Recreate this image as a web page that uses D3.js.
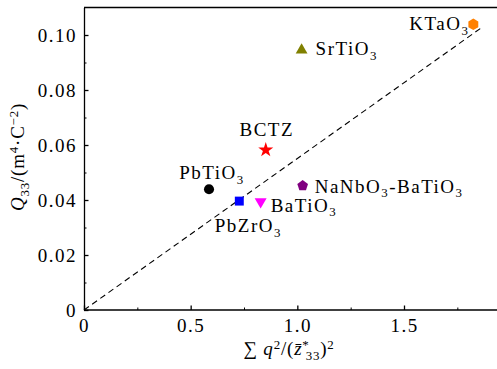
<!DOCTYPE html>
<html>
<head>
<meta charset="utf-8">
<script src="https://cdn.jsdelivr.net/npm/d3@7"></script>
<style>
    body { margin: 0; background: #fff; }
    svg { display: block; }
</style>
</head>
<body>
<svg id="drawing_region"></svg>
<script>
// data
const materials = ["KTaO3", "SrTiO3", "BCTZ", "PbTiO3", "PbZrO3", "BaTiO3", "NaNbO3-BaTiO3"];
const sumq = [1.825, 1.02, 0.852, 0.586, 0.728, 0.828, 1.025];
const q33 = [0.1039, 0.0945, 0.0582, 0.0439, 0.0396, 0.0394, 0.0452];
const fitX = [0, 1.864];
const fitY = [0, 0.1027];
const xTicks = [0, 0.5, 1.0, 1.5];
const xTickLabels = ["0", "0.5", "1.0", "1.5"];
const yTicks = [0, 0.02, 0.04, 0.06, 0.08, 0.10];
const yTickLabels = ["0", "0.02", "0.04", "0.06", "0.08", "0.10"];

const FONT = '"Liberation Serif", "DejaVu Serif", "Times New Roman", serif';
const FS = 19;
const LS = 1.5;

// polygon symbol for pentagon / hexagon
function polygon(n, rot) {
    return {
        draw(ctx, size) {
            const r = Math.sqrt(size / (n / 2 * Math.sin(2 * Math.PI / n)));
            for (let i = 0; i < n; i++) {
                const a = rot + i * 2 * Math.PI / n;
                const px = r * Math.sin(a), py = -r * Math.cos(a);
                if (i == 0) ctx.moveTo(px, py); else ctx.lineTo(px, py);
            }
            ctx.closePath();
        }
    };
}

const style = {
    "KTaO3":         {color: "#ff8000", symbol: polygon(6, 0), size: 85, rot: 0},
    "SrTiO3":        {color: "#808000", symbol: d3.symbolTriangle, size: 60, rot: 0},
    "BCTZ":          {color: "#ff0000", symbol: d3.symbolStar, size: 70, rot: 0},
    "PbTiO3":        {color: "#000000", symbol: d3.symbolCircle, size: 80, rot: 0},
    "PbZrO3":        {color: "#0000ff", symbol: d3.symbolSquare, size: 80, rot: 0},
    "BaTiO3":        {color: "#ff00ff", symbol: d3.symbolTriangle, size: 62, rot: 180},
    "NaNbO3-BaTiO3": {color: "#800080", symbol: polygon(5, 0), size: 75, rot: 0}
};

// label placement relative to marker (px)
const labelPos = {
    "KTaO3":         {dx: -4, dy: 6, anchor: "end"},
    "SrTiO3":        {dx: 14, dy: 5, anchor: "start"},
    "BCTZ":          {dx: 1, dy: -14, anchor: "middle"},
    "PbTiO3":        {dx: 3, dy: -10, anchor: "middle"},
    "PbZrO3":        {dx: 9, dy: 31, anchor: "middle"},
    "BaTiO3":        {dx: 10, dy: 10, anchor: "start"},
    "NaNbO3-BaTiO3": {dx: 12, dy: 7, anchor: "start"}
};

class ScatterPlot {
    constructor(config) {
        this.config = config;
        this.init();
    }

    init() {
        let self = this;
        self.svg = d3.select(self.config.parent)
            .attr('width', self.config.width)
            .attr('height', self.config.height);

        self.xscale = d3.scaleLinear().domain([0, 1.95]).range([84, 500]);
        self.yscale = d3.scaleLinear().domain([0, 0.11]).range([310, 7.5]);
    }

    // append tspans to a text: [string, kind, dx], kind ''/'sub'/'sup'/'it'
    rich(sel, parts) {
        let shift = 0;
        parts.forEach(([s, kind, dx]) => {
            const t = sel.append('tspan').text(s);
            let target = 0;
            if (kind == 'sub') target = 4.5;
            if (kind == 'sup') target = -6.5;
            t.attr('dy', target - shift);
            shift = target;
            t.attr('font-size', (kind == 'sub' || kind == 'sup') ? FS * 0.68 : FS);
            if (kind == 'it') t.attr('font-style', 'italic');
            if (dx) t.attr('dx', dx);
        });
    }

    chem(name) {
        return name.split(/(\d+)/).filter(s => s.length)
            .map(p => /^\d+$/.test(p) ? [p, 'sub'] : [p, '']);
    }

    render() {
        let self = this;
        const x = self.xscale, y = self.yscale;

        // frame top
        self.svg.append('line')
            .attr('x1', x(0)).attr('x2', 497)
            .attr('y1', y(0.11)).attr('y2', y(0.11))
            .attr('stroke', '#000').attr('stroke-width', 1.3);

        // minor ticks
        self.svg.append('g').attr('transform', `translate(0,${y(0)})`)
            .call(d3.axisBottom(x).tickValues([0.25, 0.75, 1.25, 1.75]).tickFormat('').tickSizeInner(-2.5).tickSizeOuter(0))
            .call(g => g.select('.domain').remove());
        self.svg.append('g').attr('transform', `translate(${x(0)},0)`)
            .call(d3.axisLeft(y).tickValues([0.01, 0.03, 0.05, 0.07, 0.09]).tickFormat('').tickSizeInner(-2.5).tickSizeOuter(0))
            .call(g => g.select('.domain').remove());

        const xaxis = self.svg.append('g').attr('transform', `translate(0,${y(0)})`)
            .call(d3.axisBottom(x).tickValues(xTicks).tickFormat((d, i) => xTickLabels[i])
                .tickSizeInner(-4.5).tickSizeOuter(0).tickPadding(8.5));
        const yaxis = self.svg.append('g').attr('transform', `translate(${x(0)},0)`)
            .call(d3.axisLeft(y).tickValues(yTicks).tickFormat((d, i) => yTickLabels[i])
                .tickSizeInner(-4.5).tickSizeOuter(0).tickPadding(7));

        [xaxis, yaxis].forEach(g => {
            g.attr('font-family', FONT).attr('font-size', FS).attr('letter-spacing', LS);
            g.selectAll('path, line').attr('stroke', '#000').attr('stroke-width', 1.3);
            g.selectAll('text').attr('fill', '#000');
        });
        xaxis.select('.domain').attr('d', `M${x(0)},0H497`);

        // axis titles
        const xt = self.svg.append('text')
            .attr('x', 289).attr('y', 355).attr('text-anchor', 'middle')
            .attr('font-family', FONT).attr('font-size', FS).attr('letter-spacing', 0.8);
        self.rich(xt, [['\u2211 ', ''], ['q', 'it'], ['2', 'sup'], ['/(', ''], ['z\u0304', 'it'],
            ['*', 'sup'], ['33', 'sub', -4], [')', ''], ['2', 'sup']]);

        const yt = self.svg.append('text')
            .attr('transform', 'translate(24,157) rotate(-90)')
            .attr('text-anchor', 'middle')
            .attr('font-family', FONT).attr('font-size', FS).attr('letter-spacing', 0.8);
        self.rich(yt, [['Q', 'it'], ['33', 'sub'], ['/(m', ''], ['4', 'sup'], ['\u00b7C', ''], ['\u22122', 'sup'], [')', '']]);

        // fit line
        self.svg.append('path')
            .datum(fitX.map((d, i) => [d, fitY[i]]))
            .attr('d', d3.line().x(d => x(d[0])).y(d => y(d[1])))
            .attr('fill', 'none').attr('stroke', '#000')
            .attr('stroke-width', 1.1).attr('stroke-dasharray', '6,4');

        // points
        const pts = materials.map((m, i) => ({name: m, x: sumq[i], y: q33[i]}));
        self.svg.selectAll('.pt').data(pts).enter().append('path')
            .attr('class', 'pt')
            .attr('transform', d => `translate(${x(d.x)},${y(d.y)}) rotate(${style[d.name].rot})`)
            .attr('d', d => d3.symbol().type(style[d.name].symbol).size(style[d.name].size)())
            .attr('fill', d => style[d.name].color);

        // labels
        pts.forEach(d => {
            const p = labelPos[d.name];
            const t = self.svg.append('text')
                .attr('x', x(d.x) + p.dx).attr('y', y(d.y) + p.dy)
                .attr('text-anchor', p.anchor)
                .attr('font-family', FONT).attr('font-size', FS).attr('letter-spacing', LS)
                .attr('fill', '#000');
            self.rich(t, self.chem(d.name));
        });
    }
}

const plot = new ScatterPlot({parent: '#drawing_region', width: 497, height: 369});
plot.render();
</script>
</body>
</html>
